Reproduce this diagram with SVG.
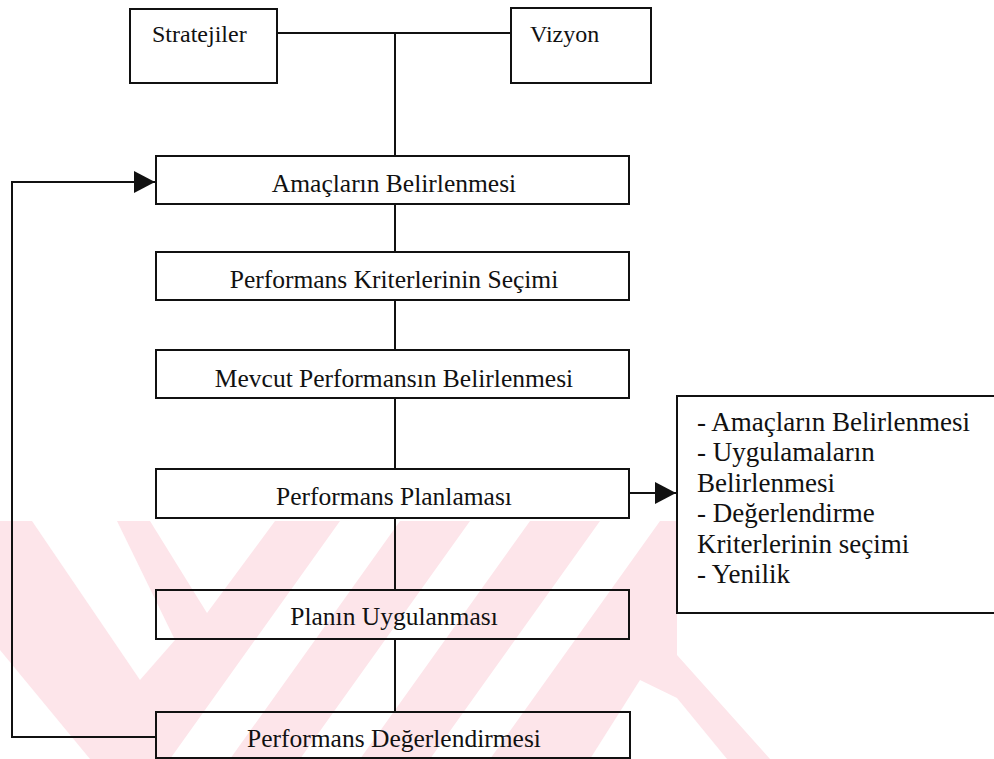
<svg xmlns="http://www.w3.org/2000/svg" width="994" height="759" viewBox="0 0 994 759">
  <style>
    .box { fill: none; stroke: #111; stroke-width: 2; }
    .wbox { fill: #fff; stroke: #111; stroke-width: 2; }
    .ln { fill: none; stroke: #111; stroke-width: 2; }
    .t { font-family: "Liberation Serif", "Times New Roman", serif; fill: #111; }
    .main { font-size: 25.5px; text-anchor: middle; }
    .top { font-size: 24px; }
    .side { font-size: 27px; }
    .wm { fill: #fde5ea; }
    .wg { fill: #fff; }
  </style>
  <defs>
    <marker id="ah" markerUnits="userSpaceOnUse" markerWidth="21" markerHeight="22" refX="21" refY="11" orient="auto">
      <path d="M0,0 L21,11 L0,22 z" fill="#111"/>
    </marker>
  </defs>
  <rect width="994" height="759" fill="#fff"/>
  <g id="watermark">
    <polygon class="wm" points="0,521 677,521 677,655 770,759 0,759"/>
    <polygon class="wg" points="32,521 117,521 175,640 140,680"/>
    <polygon class="wg" points="150,521 275,521 207,613"/>
    <polygon class="wg" points="340,521 400,521 230,759 170,759"/>
    <polygon class="wg" points="470,521 530,521 360,759 300,759"/>
    <polygon class="wg" points="600,521 660,521 490,759 430,759"/>
    <polygon class="wg" points="0,650 0,759 90,759"/>
    <polygon class="wg" points="640,680 677,698 727,759 590,759"/>
  </g>
  <g id="connectors">
    <path class="ln" d="M277,33 H511"/>
    <path class="ln" d="M395,33 V156"/>
    <path class="ln" d="M395,204 V252"/>
    <path class="ln" d="M395,300 V350"/>
    <path class="ln" d="M395,398 V469"/>
    <path class="ln" d="M395,518 V590"/>
    <path class="ln" d="M395,639 V712"/>
    <path class="ln" d="M156,737 H12 V182 H155" marker-end="url(#ah)"/>
    <path class="ln" d="M629,493 H676" marker-end="url(#ah)"/>
  </g>
  <g id="stratejiler">
    <rect class="box" x="130" y="9" width="147" height="74"/>
    <text class="t top" x="152" y="42">Stratejiler</text>
  </g>
  <g id="vizyon">
    <rect class="box" x="511" y="8" width="140" height="75"/>
    <text class="t top" x="530" y="42">Vizyon</text>
  </g>
  <g id="amaclarin">
    <rect class="box" x="156" y="156" width="473" height="48"/>
    <text class="t main" x="394" y="192">Amaçların Belirlenmesi</text>
  </g>
  <g id="kriterler">
    <rect class="box" x="156" y="252" width="473" height="48"/>
    <text class="t main" x="394" y="288">Performans Kriterlerinin Seçimi</text>
  </g>
  <g id="mevcut">
    <rect class="box" x="156" y="350" width="473" height="48"/>
    <text class="t main" x="394" y="387">Mevcut Performansın Belirlenmesi</text>
  </g>
  <g id="planlama">
    <rect class="box" x="156" y="469" width="473" height="49"/>
    <text class="t main" x="394" y="505">Performans Planlaması</text>
  </g>
  <g id="uygulama">
    <rect class="box" x="156" y="590" width="473" height="49"/>
    <text class="t main" x="394" y="625">Planın Uygulanması</text>
  </g>
  <g id="degerlendirme">
    <rect class="box" x="156" y="712" width="474" height="46"/>
    <text class="t main" x="394" y="747">Performans Değerlendirmesi</text>
  </g>
  <g id="detay">
    <rect class="wbox" x="677" y="396" width="330" height="217"/>
    <text class="t side" x="697" y="431">- Amaçların Belirlenmesi</text>
    <text class="t side" x="697" y="461">- Uygulamaların</text>
    <text class="t side" x="697" y="492">Belirlenmesi</text>
    <text class="t side" x="697" y="522">- Değerlendirme</text>
    <text class="t side" x="697" y="553">Kriterlerinin seçimi</text>
    <text class="t side" x="697" y="583">- Yenilik</text>
  </g>
</svg>
